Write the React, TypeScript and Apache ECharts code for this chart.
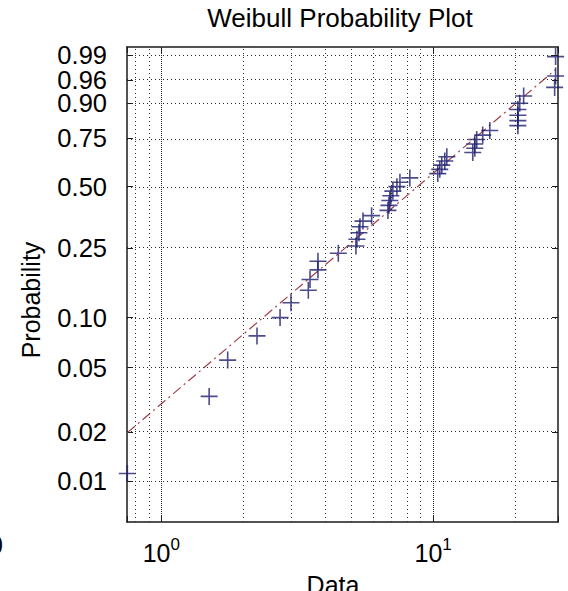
import React, { useEffect, useRef } from 'react';
import * as echarts from 'echarts';

// Observations, sorted ascending; repeated values stack vertically on the plot.
const observations = [
  0.75, 1.5, 1.755, 2.25, 2.735, 3.0, 3.475, 3.525, 3.77, 3.77,
  4.48, 5.2, 5.245, 5.335, 5.38, 5.52, 5.94, 6.82, 6.88, 6.93,
  6.99, 7.11, 7.36, 7.55, 8.21, 10.4, 10.58, 10.76, 11.04, 11.23,
  13.99, 14.23, 14.23, 14.47, 15.22, 16.16, 20.5, 20.5, 20.5, 20.5,
  20.82, 21.53, 27.99, 28.22, 28.22,
];

// Weibull parameters of the reference line
const fitShape = 1.44;
const fitScale = 11.3;

// Probability ticks on the Weibull axis
const probTicks = [0.01, 0.02, 0.05, 0.1, 0.25, 0.5, 0.75, 0.9, 0.96, 0.99];
const probTickLabels = ['0.01', '0.02', '0.05', '0.10', '0.25', '0.50', '0.75', '0.90', '0.96', '0.99'];

// Axis limits
const xLimits = [0.748, 28.8];
const probLimits = [0.00555, 0.9943];

// Vertical grid lines: decade subdivisions of the log axis
const xGridValues = [0.8, 0.9, 1, 2, 3, 4, 5, 6, 7, 8, 9, 10, 20];
const xDecades = [1, 10];

const FONT = '"Liberation Sans", Arial, Helvetica, sans-serif';
const MARKER_COLOR = '#1e1e70';
const FIT_COLOR = '#a0404a';
const AXIS_COLOR = '#1a1a1a';
const GRID_COLOR = '#2a2a2a';

// Weibull probability scale: log10(-ln(1 - p))
const weibullY = (p: number) => Math.log10(-Math.log(1 - p));

export default function App() {
  const ref = useRef<HTMLDivElement>(null);

  useEffect(() => {
    if (!ref.current) return;
    const chart = echarts.init(ref.current, null, { renderer: 'svg' });

    const n = observations.length;
    const points = observations.map((x, i) => [x, weibullY((i + 0.5) / n)]);
    const yTicks = probTicks.map(weibullY);
    const yMin = weibullY(probLimits[0]);
    const yMax = weibullY(probLimits[1]);

    // The tightly packed upper labels are split over two overlaid axes so
    // that none of them is dropped by the label-overlap check.
    const yLabelsA = yTicks.filter((_, i) => i % 2 === 0);
    const yLabelsB = yTicks.filter((_, i) => i % 2 === 1);

    const xFirst = observations[0];
    const xLast = observations[n - 1];
    const fitY = (x: number) => fitShape * (Math.log10(x) - Math.log10(fitScale));

    const yLabel = (v: number) => {
      const idx = yTicks.findIndex((t) => Math.abs(t - v) < 1e-6);
      return idx >= 0 ? probTickLabels[idx] : '';
    };
    const xLabel = (v: number) => {
      const e = Math.log10(v);
      const r = Math.round(e);
      return Math.abs(e - r) < 1e-6 ? `{b|10}{s|${r}}` : '';
    };

    const gridLines = [
      ...xGridValues.map((v) => ({ xAxis: v })),
      ...xDecades.map((v) => ({ xAxis: v, lineStyle: { dashOffset: 2 } })),
      ...yTicks.map((t) => ({ yAxis: t })),
    ];

    const tickCommon = {
      inside: true,
      length: 6,
      lineStyle: { color: AXIS_COLOR, width: 1 },
    };
    const lineCommon = {
      show: true,
      onZero: false,
      lineStyle: { color: AXIS_COLOR, width: 1.5 },
    };
    const yLabelStyle = {
      formatter: yLabel,
      showMinLabel: true,
      showMaxLabel: true,
      hideOverlap: false,
      margin: 20,
      fontSize: 25.5,
      fontFamily: FONT,
      color: '#000',
    };

    chart.setOption({
      animation: false,
      backgroundColor: '#ffffff',
      grid: { left: 127, top: 47, width: 431, height: 475, containLabel: false },
      graphic: [
        {
          type: 'text',
          x: 340,
          y: 18,
          style: {
            text: 'Weibull Probability Plot',
            font: `26px ${FONT}`,
            fill: '#000',
            textAlign: 'center',
            textVerticalAlign: 'middle',
          },
        },
        {
          type: 'text',
          x: 31,
          y: 300,
          rotation: Math.PI / 2,
          style: {
            text: 'Probability',
            font: `25px ${FONT}`,
            fill: '#000',
            textAlign: 'center',
            textVerticalAlign: 'middle',
          },
        },
        {
          type: 'text',
          x: 333,
          y: 585,
          style: {
            text: 'Data',
            font: `25px ${FONT}`,
            fill: '#000',
            textAlign: 'center',
            textVerticalAlign: 'middle',
          },
        },
        {
          type: 'text',
          x: -11,
          y: 545,
          style: {
            text: '0',
            font: `25px ${FONT}`,
            fill: '#000',
            textAlign: 'left',
            textVerticalAlign: 'middle',
          },
        },
      ],
      xAxis: [
        {
          type: 'log',
          logBase: 10,
          min: xLimits[0],
          max: xLimits[1],
          position: 'bottom',
          axisLine: lineCommon,
          axisTick: tickCommon,
          splitLine: { show: false },
          axisLabel: {
            margin: 14,
            formatter: xLabel,
            color: '#000',
            fontFamily: FONT,
            rich: {
              b: { fontSize: 25, fontFamily: FONT, color: '#000' },
              s: { fontSize: 17, fontFamily: FONT, color: '#000', padding: [0, 0, 16, 0] },
            },
          },
        },
        {
          type: 'log',
          logBase: 10,
          min: xLimits[0],
          max: xLimits[1],
          position: 'top',
          axisLine: lineCommon,
          axisTick: tickCommon,
          splitLine: { show: false },
          axisLabel: { show: false },
        },
      ],
      yAxis: [
        {
          type: 'value',
          min: yMin,
          max: yMax,
          position: 'left',
          axisLine: lineCommon,
          axisTick: { ...tickCommon, customValues: yTicks },
          splitLine: { show: false },
          axisLabel: { ...yLabelStyle, customValues: yLabelsA },
        },
        {
          type: 'value',
          min: yMin,
          max: yMax,
          position: 'right',
          axisLine: lineCommon,
          axisTick: { ...tickCommon, customValues: yTicks },
          splitLine: { show: false },
          axisLabel: { show: false },
        },
        {
          type: 'value',
          min: yMin,
          max: yMax,
          position: 'left',
          offset: 0,
          axisLine: { show: false },
          axisTick: { show: false },
          splitLine: { show: false },
          axisLabel: { ...yLabelStyle, customValues: yLabelsB },
        },
      ],
      series: [
        {
          name: 'grid',
          type: 'line',
          xAxisIndex: 0,
          yAxisIndex: 0,
          data: [],
          z: 1,
          silent: true,
          markLine: {
            silent: true,
            symbol: ['none', 'none'],
            label: { show: false },
            lineStyle: { color: GRID_COLOR, width: 1, type: [1, 3] },
            emphasis: { disabled: true },
            data: gridLines,
          },
        },
        {
          name: 'Weibull fit',
          type: 'line',
          xAxisIndex: 0,
          yAxisIndex: 0,
          z: 2,
          showSymbol: false,
          data: [
            [xFirst, fitY(xFirst)],
            [xLast, fitY(xLast)],
          ],
          lineStyle: { color: FIT_COLOR, width: 1.2, type: [10, 4, 2, 4] },
        },
        {
          name: 'Data',
          type: 'scatter',
          xAxisIndex: 0,
          yAxisIndex: 0,
          z: 3,
          clip: false,
          symbol: 'path://M8,0 L8,16 M0,8 L16,8',
          symbolSize: 17,
          itemStyle: { color: 'none', borderColor: MARKER_COLOR, borderWidth: 1.6 },
          data: points,
        },
      ],
    });

    return () => chart.dispose();
  }, []);

  return (
    <div
      ref={ref}
      style={{ position: 'fixed', left: 0, top: 0, width: 568, height: 591, background: '#fff' }}
    />
  );
}
